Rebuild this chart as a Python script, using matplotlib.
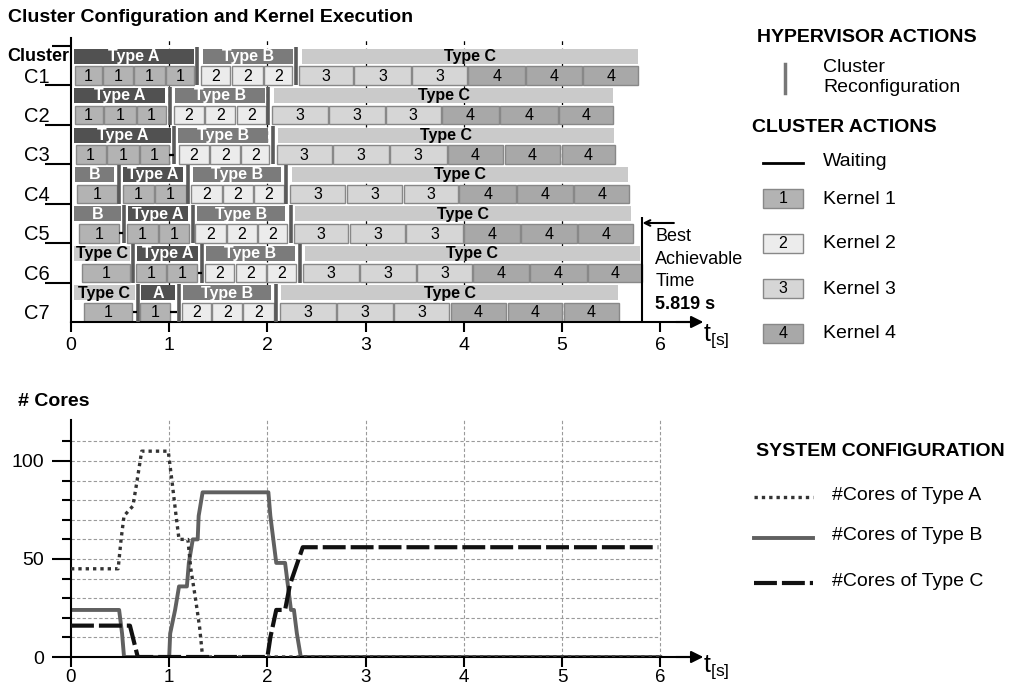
import matplotlib
matplotlib.use('Agg')
import matplotlib.pyplot as plt
import matplotlib.transforms as mtransforms
from matplotlib.patches import Rectangle
from matplotlib.lines import Line2D

plt.rcParams['font.family'] = ['Liberation Sans', 'DejaVu Sans']
plt.rcParams['mathtext.fontset'] = 'custom'
plt.rcParams['mathtext.rm'] = 'Liberation Sans'
plt.rcParams['mathtext.it'] = 'Liberation Sans'

W, H = 1009, 688

# ---------------- data: top panel ----------------
clusters = ['C1', 'C2', 'C3', 'C4', 'C5', 'C6', 'C7']

# (type, label, start, end)
c1_types = [('A', 'Type A', 0.03, 1.25), ('B', 'Type B', 1.34, 2.26), ('C', 'Type C', 2.35, 5.77)]
c2_types = [('A', 'Type A', 0.03, 0.96), ('B', 'Type B', 1.06, 1.98), ('C', 'Type C', 2.07, 5.52)]
c3_types = [('A', 'Type A', 0.03, 1.02), ('B', 'Type B', 1.09, 2.01), ('C', 'Type C', 2.11, 5.53)]
c4_types = [('B', 'B', 0.04, 0.44), ('A', 'Type A', 0.53, 1.14), ('B', 'Type B', 1.24, 2.14), ('C', 'Type C', 2.25, 5.67)]
c5_types = [('B', 'B', 0.03, 0.51), ('A', 'Type A', 0.58, 1.19), ('B', 'Type B', 1.28, 2.18), ('C', 'Type C', 2.28, 5.70)]
c6_types = [('C', 'Type C', 0.03, 0.60), ('A', 'Type A', 0.67, 1.29), ('B', 'Type B', 1.37, 2.28), ('C', 'Type C', 2.38, 5.79)]
c7_types = [('C', 'Type C', 0.03, 0.65), ('A', 'A', 0.71, 1.06), ('B', 'Type B', 1.14, 2.04), ('C', 'Type C', 2.14, 5.57)]

# (kernel, start, end)
c1_kernels = [(1, 0.03, 0.32), (1, 0.32, 0.64), (1, 0.64, 0.96), (1, 0.96, 1.26),
              (2, 1.32, 1.63), (2, 1.63, 1.96), (2, 1.96, 2.26),
              (3, 2.32, 2.88), (3, 2.88, 3.47), (3, 3.47, 4.04),
              (4, 4.04, 4.63), (4, 4.63, 5.21), (4, 5.21, 5.78)]
c2_kernels = [(1, 0.03, 0.33), (1, 0.33, 0.67), (1, 0.67, 0.97),
              (2, 1.04, 1.36), (2, 1.36, 1.68), (2, 1.68, 1.99),
              (3, 2.04, 2.62), (3, 2.62, 3.20), (3, 3.20, 3.77),
              (4, 3.77, 4.36), (4, 4.36, 4.96), (4, 4.96, 5.53)]
c3_kernels = [(1, 0.04, 0.36), (1, 0.36, 0.70), (1, 0.70, 1.00),
              (2, 1.09, 1.41), (2, 1.41, 1.73), (2, 1.73, 2.02),
              (3, 2.09, 2.66), (3, 2.66, 3.24), (3, 3.24, 3.83),
              (4, 3.83, 4.41), (4, 4.41, 4.99), (4, 4.99, 5.55)]
c4_kernels = [(1, 0.06, 0.47), (1, 0.52, 0.85), (1, 0.85, 1.18),
              (2, 1.22, 1.54), (2, 1.54, 1.86), (2, 1.86, 2.17),
              (3, 2.22, 2.80), (3, 2.80, 3.38), (3, 3.38, 3.95),
              (4, 3.95, 4.54), (4, 4.54, 5.12), (4, 5.12, 5.69)]
c5_kernels = [(1, 0.08, 0.49), (1, 0.56, 0.89), (1, 0.89, 1.21),
              (2, 1.26, 1.58), (2, 1.58, 1.90), (2, 1.90, 2.21),
              (3, 2.26, 2.83), (3, 2.83, 3.41), (3, 3.41, 4.00),
              (4, 4.00, 4.58), (4, 4.58, 5.16), (4, 5.16, 5.73)]
c6_kernels = [(1, 0.11, 0.61), (1, 0.66, 0.97), (1, 0.97, 1.29),
              (2, 1.36, 1.67), (2, 1.67, 1.99), (2, 1.99, 2.30),
              (3, 2.36, 2.94), (3, 2.94, 3.52), (3, 3.52, 4.09),
              (4, 4.09, 4.67), (4, 4.67, 5.26), (4, 5.26, 5.82)]
c7_kernels = [(1, 0.13, 0.63), (1, 0.70, 1.01),
              (2, 1.12, 1.43), (2, 1.43, 1.75), (2, 1.75, 2.07),
              (3, 2.12, 2.70), (3, 2.70, 3.28), (3, 3.28, 3.86),
              (4, 3.86, 4.44), (4, 4.44, 5.01), (4, 5.01, 5.59)]

c1_reconfig = [1.28, 2.29]
c2_reconfig = [1.01, 2.01]
c3_reconfig = [1.05, 2.06]
c4_reconfig = [0.49, 1.19, 2.19]
c5_reconfig = [0.54, 1.24, 2.24]
c6_reconfig = [0.63, 1.33, 2.33]
c7_reconfig = [0.68, 1.10, 2.09]

c1_wait = []
c2_wait = []
c3_wait = [(1.00, 1.05)]
c4_wait = []
c5_wait = [(0.49, 0.53)]
c6_wait = [(1.29, 1.33)]
c7_wait = [(0.63, 0.67), (1.01, 1.08)]

best_time = 5.819
time_ticks = [0, 1, 2, 3, 4, 5, 6]

# ---------------- data: bottom panel ----------------
type_a_t = [0, 0.48, 0.51, 0.54, 0.63, 0.67, 0.72, 0.99, 1.03, 1.07, 1.10, 1.19, 1.22, 1.27, 1.31, 1.34, 6.0]
type_a_v = [45, 45, 60, 72, 77, 89, 105, 105, 89, 72, 60, 60, 45, 29, 15, 0, 0]
type_b_t = [0, 0.49, 0.52, 0.54, 1.00, 1.01, 1.06, 1.10, 1.18, 1.20, 1.24, 1.29, 1.30, 1.34,
            2.01, 2.03, 2.06, 2.09, 2.18, 2.24, 2.27, 2.30, 2.34, 6.0]
type_b_v = [24, 24, 12, 0, 0, 12, 24, 36, 36, 48, 60, 60, 72, 84,
            84, 72, 60, 48, 48, 24, 24, 12, 0, 0]
type_c_t = [0, 0.60, 0.68, 2.00, 2.03, 2.09, 2.18, 2.23, 2.36, 5.98]
type_c_v = [16, 16, 0, 0, 10, 24, 24, 37, 56, 56]

series_labels = ['#Cores of Type A', '#Cores of Type B', '#Cores of Type C']

# ---------------- styles ----------------
type_color = {'A': '#515151', 'B': '#7b7b7b', 'C': '#cacaca'}
type_text = {'A': 'white', 'B': 'white', 'C': 'black'}
kernel_color = {1: '#b3b3b3', 2: '#ececec', 3: '#d6d6d6', 4: '#a8a8a8'}
kernel_edge = '#888888'
reconf_color = '#5a5a5a'
series_styles = [dict(color='#333333', lw=2.4, ls=(0, (1, 1.2)), dash_capstyle='butt'),
                 dict(color='#606060', lw=2.8, ls='-'),
                 dict(color='#111111', lw=3.0, ls=(0, (5.5, 1.2)), dash_capstyle='butt')]

FS = 14.0     # main text size
FS_IN = 11.5  # text inside bars


def fx(x):
    return x / W


def fy(y):
    return 1 - y / H


fig = plt.figure(figsize=(W / 100, H / 100), dpi=100)

# =============== top panel ===============
ax = fig.add_axes([fx(71), fy(322), (694.6 - 71) / W, (322 - 38) / H])
ax.set_xlim(0, 6.35)
ax.set_ylim(7, -0.2)

for x in [1, 2, 3, 4, 5]:
    ax.axvline(x, color='k', lw=0.9, ls=(0, (3, 3)), zorder=1)

all_types = [c1_types, c2_types, c3_types, c4_types, c5_types, c6_types, c7_types]
all_kernels = [c1_kernels, c2_kernels, c3_kernels, c4_kernels, c5_kernels, c6_kernels, c7_kernels]
all_reconf = [c1_reconfig, c2_reconfig, c3_reconfig, c4_reconfig, c5_reconfig, c6_reconfig, c7_reconfig]
all_wait = [c1_wait, c2_wait, c3_wait, c4_wait, c5_wait, c6_wait, c7_wait]

for k in range(len(clusters)):
    for tp, lab, s, e in all_types[k]:
        ax.barh(k + 0.26, e - s, left=s, height=0.38, color=type_color[tp], lw=0, zorder=2)
        ax.text((s + e) / 2, k + 0.27, lab, ha='center', va='center', color=type_text[tp],
                fontsize=FS_IN, fontweight='bold', zorder=5)
    for kid, s, e in all_kernels[k]:
        ax.barh(k + 0.755, e - s - 0.012, left=s + 0.006, height=0.47, color=kernel_color[kid],
                edgecolor=kernel_edge, lw=1, zorder=2)
        ax.text((s + e) / 2, k + 0.77, str(kid), ha='center', va='center', fontsize=FS_IN, zorder=5)
    for x in all_reconf[k]:
        ax.vlines(x, k + 0.03, k + 1.0, color=reconf_color, lw=2.6, zorder=4)
    for s, e in all_wait[k]:
        ax.hlines(k + 0.755, s, e, color='k', lw=1.6, zorder=4)

# best achievable time
ax.vlines(best_time, 4.34, 7, color='k', lw=1.5, zorder=4, clip_on=False)
ax.annotate('', xy=(best_time, 4.49), xytext=(best_time + 0.32, 4.49),
            arrowprops=dict(arrowstyle='->', lw=1.5, color='k', shrinkA=0, shrinkB=0),
            annotation_clip=False)
ax.text(best_time + 0.13, 4.82, 'Best', fontsize=13, va='center', ha='left')
ax.text(best_time + 0.13, 5.42, 'Achievable', fontsize=13, va='center', ha='left')
ax.text(best_time + 0.13, 5.97, 'Time', fontsize=13, va='center', ha='left')
ax.text(best_time + 0.13, 6.55, f'{best_time:.3f} s', fontsize=13, va='center', ha='left',
        fontweight='bold')

# spines / ticks
for sp in ['top', 'right']:
    ax.spines[sp].set_visible(False)
ax.spines['left'].set_linewidth(1.5)
ax.spines['bottom'].set_linewidth(1.5)
ax.set_xticks(time_ticks)
ax.set_xticklabels([str(t) for t in time_ticks])
ax.tick_params(axis='x', direction='out', length=7, width=1.5, labelsize=FS, pad=4)
ax.set_yticks([1, 2, 3, 4, 5, 6])
ax.set_yticklabels([])
ax.tick_params(axis='y', direction='out', length=18.7, width=1.5)
ax.set_yticks([0], minor=True)
ax.tick_params(axis='y', which='minor', direction='out', length=13.7, width=1.5)
ax.annotate('', xy=(1.014, 0), xycoords='axes fraction', xytext=(0.97, 0),
            arrowprops=dict(arrowstyle='-|>', color='k', lw=1.5, mutation_scale=18,
                            shrinkA=0, shrinkB=0), annotation_clip=False)

blend = mtransforms.blended_transform_factory(fig.transFigure, ax.transData)
ax.text(fx(38), 0.28, 'Cluster', transform=blend, ha='center', va='center',
        fontsize=13, fontweight='bold')
for k, c in enumerate(clusters):
    ax.text(fx(37), k + 0.79, c, transform=blend, ha='center', va='center', fontsize=FS + 0.5)

fig.text(fx(8), fy(18), 'Cluster Configuration and Kernel Execution', fontsize=FS,
         fontweight='bold', ha='left', va='center')
fig.text(fx(703), fy(336), r'$\mathregular{t_{[s]}}$', fontsize=18, ha='left', va='center')

# top legend
fig.text(fx(757), fy(38), 'HYPERVISOR ACTIONS', fontsize=FS, fontweight='bold', ha='left', va='center')
fig.add_artist(Line2D([fx(785), fx(785)], [fy(64), fy(93)], color='#777777', lw=2.5))
fig.text(fx(823), fy(68), 'Cluster', fontsize=FS, ha='left', va='center')
fig.text(fx(823), fy(88), 'Reconfiguration', fontsize=FS, ha='left', va='center')
fig.text(fx(752), fy(128), 'CLUSTER ACTIONS', fontsize=FS, fontweight='bold', ha='left', va='center')
fig.add_artist(Line2D([fx(763), fx(803)], [fy(163), fy(163)], color='k', lw=2))
fig.text(fx(823), fy(162), 'Waiting', fontsize=FS, ha='left', va='center')
for i, kid in enumerate([1, 2, 3, 4]):
    ytop = 189 + i * 45
    fig.add_artist(Rectangle((fx(763), fy(ytop + 19)), 40 / W, 19 / H,
                             facecolor=kernel_color[kid], edgecolor=kernel_edge, lw=1,
                             transform=fig.transFigure))
    fig.text(fx(783), fy(ytop + 9.5), str(kid), fontsize=FS_IN, ha='center', va='center')
    fig.text(fx(823), fy(ytop + 10), f'Kernel {kid}', fontsize=FS, ha='left', va='center')

# =============== bottom panel ===============
ax2 = fig.add_axes([fx(71), fy(657), (694.6 - 71) / W, (657 - 420) / H])
ax2.set_xlim(0, 6.35)
ax2.set_ylim(0, 120.9)

grid_kw = dict(color='#9a9a9a', lw=0.8, ls=(0, (3, 2)), zorder=1)
ax2.hlines(range(10, 120, 10), 0, 6, **grid_kw)
ax2.vlines([1, 2, 3, 4, 5, 6], 0, 120.9, **grid_kw)

series = [(type_a_t, type_a_v), (type_b_t, type_b_v), (type_c_t, type_c_v)]
zorders = [3, 2, 3]
for (tt, vv), st, lab, z in zip(series, series_styles, series_labels, zorders):
    ax2.plot(tt, vv, zorder=z, label=lab, **st)

for sp in ['top', 'right']:
    ax2.spines[sp].set_visible(False)
ax2.spines['left'].set_linewidth(1.5)
ax2.spines['bottom'].set_linewidth(1.5)
ax2.set_xticks(time_ticks)
ax2.set_xticklabels([str(t) for t in time_ticks])
ax2.tick_params(axis='x', direction='out', length=7, width=1.5, labelsize=13.5, pad=1.5)
ax2.set_yticks([0, 50, 100])
ax2.set_yticklabels(['0', '50', '100'])
ax2.set_yticks(range(10, 120, 10), minor=True)
ax2.tick_params(axis='y', which='major', direction='out', length=13.7, width=1.5,
                labelsize=FS, pad=6)
ax2.tick_params(axis='y', which='minor', direction='out', length=6.5, width=1.5)
ax2.annotate('', xy=(1.014, 0), xycoords='axes fraction', xytext=(0.97, 0),
             arrowprops=dict(arrowstyle='-|>', color='k', lw=1.5, mutation_scale=18,
                             shrinkA=0, shrinkB=0), annotation_clip=False)

fig.text(fx(18), fy(402), '# Cores', fontsize=FS, fontweight='bold', ha='left', va='center')
fig.text(fx(703), fy(667), r'$\mathregular{t_{[s]}}$', fontsize=18, ha='left', va='center')

# bottom legend
fig.text(fx(756), fy(452), 'SYSTEM CONFIGURATION', fontsize=FS, fontweight='bold', ha='left', va='center')
for i, (st, lab) in enumerate(zip(series_styles, series_labels)):
    yy = [497, 538, 583][i]
    fig.add_artist(Line2D([fx(754), fx(813)], [fy(yy), fy(yy)], **st))
    fig.text(fx(832), fy(yy - 2), lab, fontsize=FS, ha='left', va='center')

fig.savefig('out.png', dpi=100)
